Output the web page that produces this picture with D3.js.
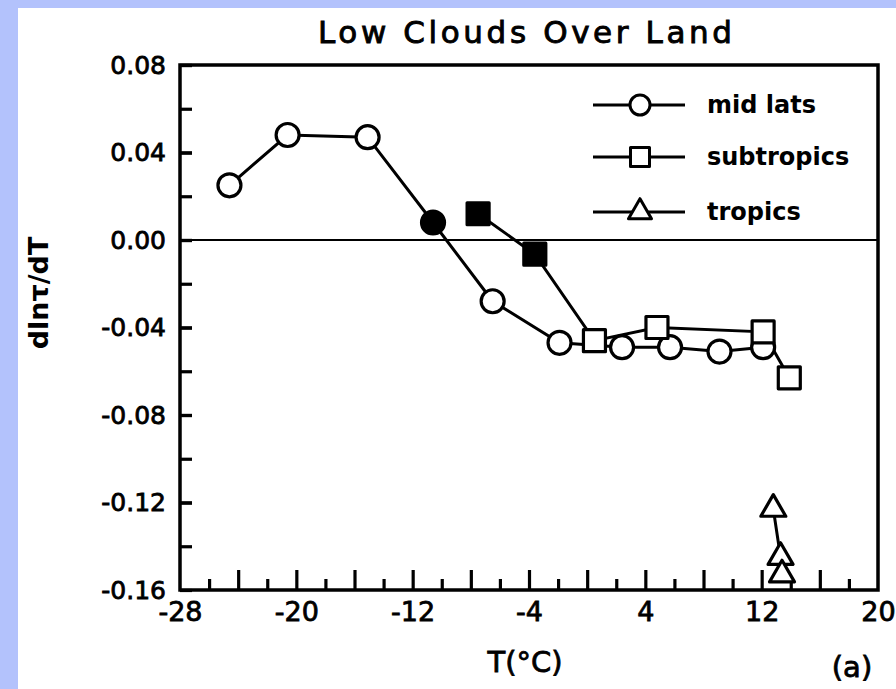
<!DOCTYPE html>
<html>
<head>
<meta charset="utf-8">
<script src="https://cdn.jsdelivr.net/npm/d3@7"></script>
<style>
  html, body { margin: 0; padding: 0; background: #b3c2fc; }
  svg { display: block; }
  text { font-family: "DejaVu Sans", sans-serif; fill: #000; }
</style>
</head>
<body>
<script>
// ---- data ----
const midT      = [-24.6, -20.6, -15.1, -10.6, -6.5, -1.9, 2.4, 5.7, 9.1, 12.1];
const midV      = [0.025, 0.048, 0.047, 0.008, -0.028, -0.047, -0.049, -0.049, -0.051, -0.049];
const midFilled = [false, false, false, true, false, false, false, false, false, false];

const subT      = [-7.5, -3.6, 0.5, 4.8, 12.1, 13.9];
const subV      = [0.012, -0.0065, -0.046, -0.040, -0.042, -0.063];
const subFilled = [true, true, false, false, false, false];

const tropT     = [12.8, 13.3, 13.4];
const tropV     = [-0.123, -0.145, -0.153];

const xTickLabels = [-28, -20, -12, -4, 4, 12, 20];
const xTicksAll   = d3.range(-26, 20, 2);
const yTickLabels = [0.08, 0.04, 0.00, -0.04, -0.08, -0.12, -0.16];
const yTicksAll   = d3.range(-0.14, 0.08, 0.02);

const legendNames = ["mid lats", "subtropics", "tropics"];

// ---- layout ----
const W = 896, H = 689;
const mL = 180, mR = 878, mT = 65, mB = 590;

const svg = d3.select("body").append("svg").attr("width", W).attr("height", H);
svg.append("rect").attr("x", 18).attr("y", 8).attr("width", W - 18).attr("height", H - 8).attr("fill", "#fff");

const x = d3.scaleLinear().domain([-28, 20]).range([mL, mR]);
const y = d3.scaleLinear().domain([-0.16, 0.08]).range([mB, mT]);

const fmtY = v => d3.format(".2f")(v).replace("−", "-");
const heavy = (sel, w) => sel.attr("stroke", "#000").attr("stroke-width", w).attr("paint-order", "stroke");

// title
heavy(svg.append("text").attr("x", 525).attr("y", 43).attr("text-anchor", "middle")
  .attr("font-size", 31).attr("textLength", 414).attr("lengthAdjust", "spacing")
  .text("Low Clouds Over Land"), 0.9);

// zero line
svg.append("line").attr("x1", mL).attr("x2", mR).attr("y1", y(0)).attr("y2", y(0))
  .attr("stroke", "#000").attr("stroke-width", 2.2);

// inward y ticks (left side)
const yTickAxis = d3.axisRight(y).tickValues(yTicksAll.concat(yTickLabels)).tickSize(12).tickFormat("");
svg.append("g").attr("transform", `translate(${mL},0)`).call(yTickAxis)
  .call(g => g.select(".domain").remove())
  .call(g => g.selectAll("line").attr("stroke", "#000").attr("stroke-width", 3.2));

// y labels
const yLabAxis = d3.axisLeft(y).tickValues(yTickLabels).tickSize(0).tickPadding(14).tickFormat(fmtY);
svg.append("g").attr("transform", `translate(${mL},0)`).call(yLabAxis)
  .call(g => g.select(".domain").remove())
  .call(g => heavy(g.selectAll("text").attr("font-size", 25).attr("font-family", "DejaVu Sans").attr("fill", "#000"), 0.8));

// inward x ticks (bottom)
const xTickAxis = d3.axisTop(x).tickValues(xTicksAll).tickSize(0).tickFormat("");
const gx = svg.append("g").attr("transform", `translate(0,${mB})`).call(xTickAxis);
gx.select(".domain").remove();
gx.selectAll(".tick line")
  .attr("y2", d => (Math.round(d) % 4 === 0 ? -20 : -11))
  .attr("stroke", "#000").attr("stroke-width", 3.2);

// x labels
const xLabAxis = d3.axisBottom(x).tickValues(xTickLabels).tickSize(0).tickPadding(12).tickFormat(d => String(d));
svg.append("g").attr("transform", `translate(0,${mB})`).call(xLabAxis)
  .call(g => g.select(".domain").remove())
  .call(g => heavy(g.selectAll("text").attr("font-size", 27).attr("font-family", "DejaVu Sans").attr("fill", "#000"), 0.8));

// frame
svg.append("rect").attr("x", mL).attr("y", mT).attr("width", mR - mL).attr("height", mB - mT)
  .attr("fill", "none").attr("stroke", "#000").attr("stroke-width", 3.5);

// axis titles
heavy(svg.append("text").attr("x", 525).attr("y", 672).attr("text-anchor", "middle").attr("font-size", 29)
  .text("T(°C)"), 0.8);
heavy(svg.append("text").attr("x", 852).attr("y", 677).attr("text-anchor", "middle").attr("font-size", 29)
  .text("(a)"), 0.8);
svg.append("text").attr("transform", "translate(48,293) rotate(-90)").attr("text-anchor", "middle")
  .attr("font-size", 27).attr("font-weight", "bold").text("dlnτ/dT");

// series helpers
const line = d3.line().x(d => x(d[0])).y(d => y(d[1]));
const midPts = midT.map((t, i) => [t, midV[i], midFilled[i]]);
const subPts = subT.map((t, i) => [t, subV[i], subFilled[i]]);
const tropPts = tropT.map((t, i) => [t, tropV[i], false]);

const plot = svg.append("g");
[midPts, subPts, tropPts].forEach(pts => {
  plot.append("path").datum(pts).attr("d", line).attr("fill", "none")
    .attr("stroke", "#000").attr("stroke-width", 3);
});

const sym = {
  circle: d3.symbol().type(d3.symbolCircle).size(Math.PI * 11.5 * 11.5),
  square: d3.symbol().type(d3.symbolSquare).size(22 * 22),
  triangle: d3.symbol().type(d3.symbolTriangle).size(270)
};

function drawMarkers(pts, gen) {
  plot.append("g").selectAll("path").data(pts).join("path")
    .attr("d", gen)
    .attr("transform", d => `translate(${x(d[0])},${y(d[1])})`)
    .attr("fill", d => d[2] ? "#000" : "#fff")
    .attr("stroke", "#000").attr("stroke-width", 3.2)
    .attr("stroke-linejoin", "round");
}
drawMarkers(midPts, sym.circle);
drawMarkers(subPts, sym.square);
drawMarkers(tropPts, sym.triangle);

// legend
const legY = [105, 157, 212];
const legSyms = [
  d3.symbol().type(d3.symbolCircle).size(Math.PI * 10 * 10),
  d3.symbol().type(d3.symbolSquare).size(19 * 19),
  d3.symbol().type(d3.symbolTriangle).size(230)
];
const leg = svg.append("g");
legendNames.forEach((name, i) => {
  leg.append("line").attr("x1", 593).attr("x2", 685).attr("y1", legY[i]).attr("y2", legY[i])
    .attr("stroke", "#000").attr("stroke-width", 2.8);
  leg.append("path").attr("d", legSyms[i]()).attr("transform", `translate(640,${legY[i]})`)
    .attr("fill", "#fff").attr("stroke", "#000").attr("stroke-width", 3).attr("stroke-linejoin", "round");
  leg.append("text").attr("x", 707).attr("y", legY[i] + 8).attr("font-size", 24).attr("font-weight", "bold")
    .text(name);
});
</script>
</body>
</html>
